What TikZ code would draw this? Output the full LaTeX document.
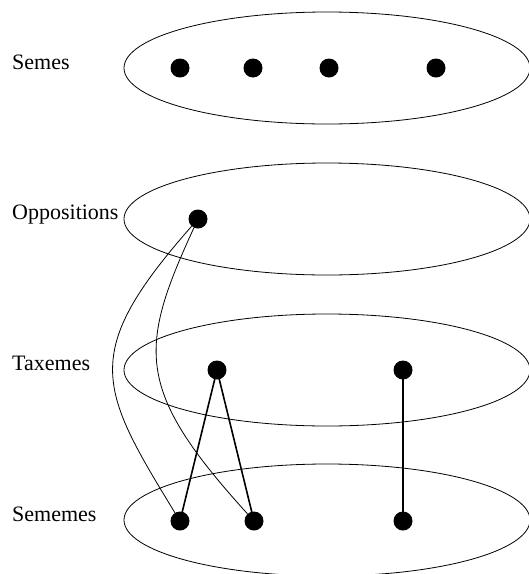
\documentclass[tikz,border=0pt]{standalone}
\usepackage{fontspec}
\setmainfont{Liberation Serif}
\usetikzlibrary{shapes.geometric}
\begin{document}
\begin{tikzpicture}[x=1pt,y=-1pt,
  dot/.style={circle,fill=black,inner sep=0pt,minimum size=19pt},
  layer/.style={ellipse,draw=black,line width=0.8pt,inner sep=0pt,minimum width=406pt,minimum height=112pt},
  lbl/.style={anchor=base west,inner sep=0pt,font=\fontsize{22}{26}\selectfont},
  thin/.style={line width=0.8pt},
  thick/.style={line width=1.6pt}]
\useasboundingbox (0,0) rectangle (529,574);
\clip (0,0) rectangle (529,574);
% layers
\node[layer] (Lsemes) at (327,68) {};
\node[layer] (Lopp) at (327,219) {};
\node[layer] (Ltax) at (327,370) {};
\node[layer] (Lsem) at (327,520) {};
% labels
\node[lbl] (tsemes) at (12,69) {Semes};
\node[lbl] (topp) at (12,219) {Oppositions};
\node[lbl] (ttax) at (12,370) {Taxemes};
\node[lbl] (tsem) at (12,521) {Sememes};
% dots
\node[dot] (s1) at (180,68) {};
\node[dot] (s2) at (253,68) {};
\node[dot] (s3) at (329,68) {};
\node[dot] (s4) at (436,68) {};
\node[dot] (o1) at (198,219) {};
\node[dot] (t1) at (217,370) {};
\node[dot] (t2) at (403,370) {};
\node[dot] (m1) at (180,521) {};
\node[dot] (m2) at (254,521) {};
\node[dot] (m3) at (403,521) {};
% connectors
\draw[thin] (o1) .. controls (80,353) and (98,387) .. (m1);
\draw[thin] (o1) .. controls (138,349) and (135,390) .. (m2);
\draw[thick] (t1.center) -- (m1.center);
\draw[thick] (t1.center) -- (m2.center);
\draw[thick] (t2.center) -- (m3.center);
\end{tikzpicture}
\end{document}
